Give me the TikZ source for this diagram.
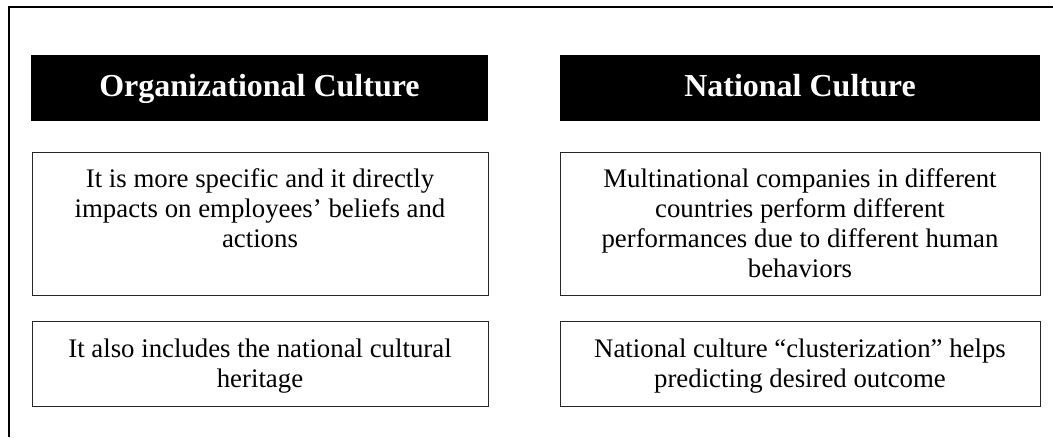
\documentclass[tikz,border=0pt]{standalone}
\usepackage{fontspec}
\setmainfont{Liberation Serif}
\usepackage{tikz}
\usetikzlibrary{positioning}

\begin{document}
\begin{tikzpicture}[
  x=1pt,y=1pt,
  head/.style={fill=black,text=white,inner sep=0pt,minimum height=66pt,
    text height=23pt,text depth=6pt,
    font=\bfseries\fontsize{32}{38}\selectfont},
  cell/.style={draw=black!85,line width=1pt,inner sep=0pt},
  celltext/.style={inner sep=0pt,align=center,anchor=north,
    font=\fontsize{26.8}{30}\selectfont}
]
\useasboundingbox (0,0) rectangle (1053,-437);
% open frame: left and top edges only
\coordinate (frametop) at (1053,-7);
\coordinate (framebot) at (9,-437);
\draw[line width=2pt] (framebot) -- (9,-7) -- (frametop);

% column headers
\node[head,minimum width=457pt] (orghead) at (259.5,-88) {Organizational Culture};
\node[head,minimum width=480pt] (nathead) at (800,-88) {National Culture};

% organizational culture column
\node[cell,minimum width=456pt,minimum height=143pt,below=31pt of orghead,xshift=0.5pt] (orgtop) {};
\node[cell,minimum width=456pt,minimum height=85pt,below=25pt of orgtop] (orgbot) {};
\node[celltext,below=16pt of orgtop.north] (orgtoptxt)
  {It is more specific and it directly\\impacts on employees’ beliefs and\\actions};
\node[celltext,below=17pt of orgbot.north] (orgbottxt)
  {It also includes the national cultural\\heritage};

% national culture column
\node[cell,minimum width=480pt,minimum height=143pt,below=31pt of nathead] (nattop) {};
\node[cell,minimum width=480pt,minimum height=85pt,below=25pt of nattop] (natbot) {};
\node[celltext,below=16pt of nattop.north] (nattoptxt)
  {Multinational companies in different\\countries perform different\\performances due to different human\\behaviors};
\node[celltext,below=17pt of natbot.north] (natbottxt)
  {National culture “clusterization” helps\\predicting desired outcome};
\end{tikzpicture}
\end{document}
